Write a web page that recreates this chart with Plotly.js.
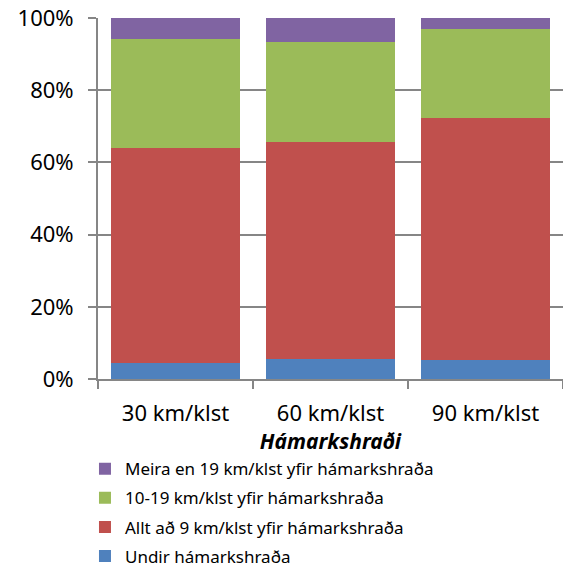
<!DOCTYPE html>
<html>
<head>
<meta charset="utf-8">
<script src="https://cdn.plot.ly/plotly-3.0.1.min.js"></script>
<style>
  html, body { margin: 0; padding: 0; background: #fff; }
</style>
</head>
<body>
<div id="chart" style="width: 563px; height: 571px;"></div>
<script>
    // Speed limit categories
    const categories = ['30 km/klst', '60 km/klst', '90 km/klst'];

    // Share of drivers per speed group (%)
    const undir = [4.3, 5.5, 5.3];
    const allt9 = [59.8, 60.1, 66.9];
    const tiu19 = [30.1, 27.8, 24.8];
    const meira19 = [5.8, 6.6, 3.0];

    const seriesNames = [
        'Undir hámarkshraða',
        'Allt að 9 km/klst yfir hámarkshraða',
        '10-19 km/klst yfir hámarkshraða',
        'Meira en 19 km/klst yfir hámarkshraða'
    ];
    const seriesValues = [undir, allt9, tiu19, meira19];
    const seriesColors = ['#4F81BD', '#C0504D', '#9BBB59', '#8064A2'];

    const traces = seriesValues.map((vals, i) => ({
        x: categories,
        y: vals,
        name: seriesNames[i],
        legendgroup: 'g' + i,
        legendrank: seriesValues.length - i,
        type: 'bar',
        marker: { color: seriesColors[i] },
        hovertemplate: '%{x}: %{y:.1f}%<extra>' + seriesNames[i] + '</extra>'
    }));

    const font = "'Noto Sans', 'Open Sans', sans-serif";

    const layout = {
        barmode: 'stack',
        bargap: 0.165,
        width: 563,
        height: 571,
        margin: { l: 98, r: 0, t: 18, b: 192, autoexpand: false },
        font: { family: font, color: '#000' },
        paper_bgcolor: '#fff',
        plot_bgcolor: '#fff',
        xaxis: {
            showline: true,
            linecolor: '#868686',
            linewidth: 2,
            ticks: 'outside',
            tickson: 'boundaries',
            ticklen: 8,
            tickcolor: '#868686',
            tickwidth: 2,
            tickfont: { size: 22 },
            ticklabelstandoff: 14,
            title: {
                text: '<b><i>Hámarkshraði</i></b>',
                font: { size: 21 },
                standoff: 0
            }
        },
        yaxis: {
            range: [0, 100],
            dtick: 20,
            ticksuffix: '%',
            showline: true,
            linecolor: '#868686',
            linewidth: 2,
            ticks: 'outside',
            ticklen: 8,
            tickcolor: '#868686',
            tickwidth: 2,
            gridcolor: '#868686',
            gridwidth: 2,
            tickfont: { size: 22 },
            ticklabelstandoff: 10,
            zeroline: false
        },
        showlegend: true,
        legend: {
            traceorder: 'grouped',
            tracegroupgap: 4,
            orientation: 'v',
            x: -0.028,
            xanchor: 'left',
            y: -0.2,
            yanchor: 'top',
            font: { size: 17 },
            itemwidth: 30
        }
    };

    Plotly.newPlot('chart', traces, layout, { displayModeBar: false });
</script>
</body>
</html>
